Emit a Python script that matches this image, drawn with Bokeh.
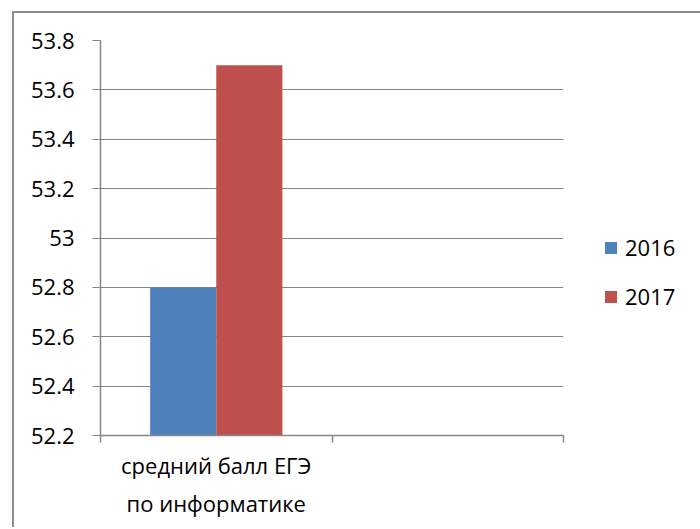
from bokeh.plotting import figure
from bokeh.models import FixedTicker, Legend, LegendItem, ColumnDataSource
from bokeh.embed import file_html
from bokeh.resources import INLINE

# ---- data ----
categories = ["средний балл ЕГЭ\nпо информатике", ""]
series_names = ["2016", "2017"]
values_2016 = [52.8]
values_2017 = [53.7]
y_ticks = [52.2, 52.4, 52.6, 52.8, 53.0, 53.2, 53.4, 53.6, 53.8]
y_tick_labels = ["52.2", "52.4", "52.6", "52.8", "53", "53.2", "53.4", "53.6", "53.8"]
colors = ["#4F81BD", "#C0504D"]

FONT = "Open Sans"
FS = "22px"
GRID = "#868686"

n_cat = len(categories)
cat_centers = [i + 0.5 for i in range(n_cat)]
cat_bounds = [float(i) for i in range(n_cat + 1)]

p = figure(width=678, height=514, output_backend="svg", toolbar_location=None,
           x_range=(0, n_cat), y_range=(y_ticks[0], y_ticks[-1]))
p.frame_width = 463
p.frame_height = 395
p.min_border_left = 86
p.min_border_top = 27
p.min_border_right = 129
p.min_border_bottom = 92
p.margin = (11, 0, 0, 12)
p.styles = {"border-top": "2px solid #8c8c8c", "border-left": "2px solid #8c8c8c"}
p.outline_line_color = None
p.background_fill_color = "white"
p.border_fill_color = "white"

bw = 1.0 / (len(series_names) + 1.5)
series_vals = [values_2016, values_2017]
renderers = []
for k, (name, vals) in enumerate(zip(series_names, series_vals)):
    xs = [cat_centers[i] + (k - (len(series_names) - 1) / 2) * bw for i in range(len(vals))]
    src = ColumnDataSource(dict(x=xs, top=vals, bottom=[y_ticks[0]] * len(vals)))
    r = p.vbar(x="x", top="top", bottom="bottom", width=bw, source=src,
               fill_color=colors[k], line_color=None)
    renderers.append((name, r))

# y axis
p.yaxis.ticker = FixedTicker(ticks=y_ticks)
p.yaxis.major_label_overrides = {t: l for t, l in zip(y_ticks, y_tick_labels)}
p.yaxis.minor_tick_line_color = None
p.yaxis.major_tick_out = 8
p.yaxis.major_tick_in = 0
p.yaxis.major_tick_line_color = GRID
p.yaxis.axis_line_color = GRID
p.yaxis.axis_line_width = 1.5
p.yaxis.major_label_text_font = FONT
p.yaxis.major_label_text_font_size = FS
p.yaxis.major_label_text_color = "black"
p.yaxis.major_label_standoff = 18

# x axis
p.xaxis.ticker = FixedTicker(ticks=[cat_centers[0]], minor_ticks=cat_bounds)
p.xaxis.major_label_overrides = {cat_centers[0]: categories[0]}
p.xaxis.major_tick_line_color = None
p.xaxis.minor_tick_out = 7
p.xaxis.minor_tick_in = 0
p.xaxis.minor_tick_line_color = GRID
p.xaxis.minor_tick_line_width = 1.5
p.xaxis.axis_line_color = GRID
p.xaxis.axis_line_width = 1.5
p.xaxis.major_label_text_font = FONT
p.xaxis.major_label_text_font_size = FS
p.xaxis.major_label_text_color = "black"
p.xaxis.major_label_text_line_height = 1.28
p.xaxis.major_label_standoff = 7

p.xgrid.grid_line_color = None
p.ygrid.ticker = FixedTicker(ticks=y_ticks)
p.ygrid.grid_line_color = GRID
p.ygrid.grid_line_width = 1

legend = Legend(items=[LegendItem(label=n, renderers=[r]) for n, r in renderers],
                location=(40, 124), orientation="vertical",
                glyph_width=15, glyph_height=15, label_height=15,
                spacing=19, label_standoff=7, padding=0, margin=0,
                border_line_color=None, background_fill_alpha=0,
                label_text_font=FONT, label_text_font_size=FS, label_text_color="black")
p.add_layout(legend, "right")

open("out.html", "w").write(file_html(p, INLINE))
